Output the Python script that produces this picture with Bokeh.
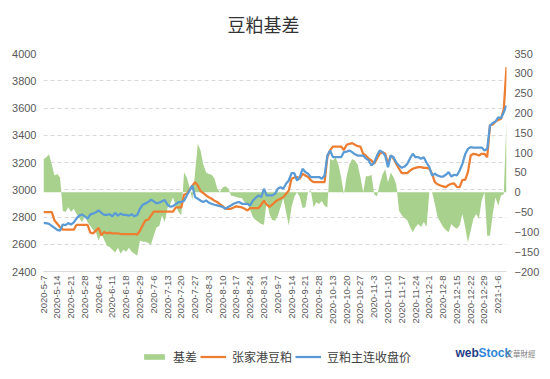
import math
from bokeh.plotting import figure
from bokeh.layouts import column
from bokeh.models import (Range1d, LinearAxis, FixedTicker, ColumnDataSource,
                          Legend, LegendItem, Label)
from bokeh.embed import file_html
from bokeh.resources import INLINE

title_text = "豆粕基差"
series_names = ["基差", "张家港豆粕", "豆粕主连收盘价"]
logo_parts = ["web", "Stock", "文華財經"]

date_labels = ["2020-5-7", "2020-5-14", "2020-5-21", "2020-5-28", "2020-6-4", "2020-6-11",
               "2020-6-18", "2020-6-29", "2020-7-6", "2020-7-13", "2020-7-20", "2020-7-27",
               "2020-8-3", "2020-8-10", "2020-8-17", "2020-8-24", "2020-8-31", "2020-9-7",
               "2020-9-14", "2020-9-21", "2020-9-28", "2020-10-13", "2020-10-20", "2020-10-27",
               "2020-11-3", "2020-11-10", "2020-11-17", "2020-11-24", "2020-12-1", "2020-12-8",
               "2020-12-15", "2020-12-22", "2020-12-29", "2021-1-6"]
label_every = 5

left_ticks = [2400, 2600, 2800, 3000, 3200, 3400, 3600, 3800, 4000]
right_ticks = [-200, -150, -100, -50, 0, 50, 100, 150, 200, 250, 300, 350]

# 张家港豆粕 (spot)
spot = [2836, 2836, 2836, 2836, 2775, 2750, 2727, 2707, 2707, 2707,
        2707, 2707, 2743, 2743, 2743, 2743, 2743, 2685, 2680, 2700,
        2720, 2666, 2690, 2680, 2685, 2680, 2680, 2680, 2675, 2675,
        2675, 2675, 2675, 2675, 2670, 2700, 2740, 2775, 2780, 2810,
        2840, 2840, 2840, 2840, 2840, 2840, 2840, 2840, 2870, 2870,
        2870, 2965, 2970, 3000, 3030, 3056, 3030, 2990, 2975, 2958,
        2945, 2934, 2920, 2910, 2895, 2880, 2860, 2860, 2860, 2870,
        2878, 2874, 2870, 2860, 2848, 2865, 2865, 2865, 2865, 2890,
        2921, 2890, 2874, 2890, 2910, 2925, 2934, 2946, 2970, 2995,
        3081, 3090, 3093, 3081, 3117, 3105, 3093, 3070, 3056, 3056,
        3056, 3056, 3056, 3239, 3290, 3317, 3317, 3317, 3317, 3292,
        3330, 3337, 3342, 3330, 3320, 3317, 3264, 3250, 3227, 3215,
        3190, 3230, 3264, 3276, 3264, 3190, 3251, 3230, 3190, 3154,
        3122, 3122, 3122, 3140, 3154, 3160, 3166, 3166, 3160, 3160,
        3154, 3117, 3056, 3040, 3031, 3025, 3019, 3035, 3044, 3046,
        3021, 3019, 3073, 3073, 3129, 3251, 3264, 3260, 3251, 3264,
        3264, 3239, 3471, 3480, 3500, 3513, 3520, 3590, 3900]

# 豆粕主连收盘价 (futures close)
futures = [2755, 2755, 2750, 2735, 2720, 2705, 2700, 2745, 2740, 2755,
           2745, 2760, 2790, 2810, 2819, 2805, 2787, 2819, 2825, 2835,
           2848, 2830, 2815, 2815, 2820, 2805, 2830, 2810, 2825, 2815,
           2815, 2810, 2820, 2805, 2815, 2860, 2890, 2900, 2910, 2927,
           2915, 2900, 2905, 2915, 2925, 2890, 2875, 2880, 2895, 2910,
           2910, 2920, 2958, 2995, 3031, 2946, 2934, 2920, 2910, 2922,
           2905, 2897, 2890, 2885, 2880, 2874, 2860, 2874, 2885, 2897,
           2905, 2910, 2897, 2897, 2897, 2885, 2921, 2940, 2958, 2946,
           3007, 2958, 2958, 2958, 2970, 3007, 3019, 3007, 3044, 3068,
           3122, 3122, 3068, 3093, 3154, 3130, 3117, 3093, 3093, 3093,
           3093, 3081, 3105, 3251, 3288, 3239, 3239, 3239, 3239, 3276,
           3280, 3288, 3276, 3260, 3251, 3251, 3251, 3230, 3215, 3178,
           3200, 3251, 3288, 3276, 3250, 3166, 3251, 3239, 3200, 3178,
           3161, 3170, 3190, 3230, 3264, 3239, 3239, 3227, 3239, 3198,
           3166, 3105, 3117, 3105, 3097, 3097, 3110, 3129, 3097, 3110,
           3105, 3141, 3190, 3260, 3300, 3313, 3310, 3310, 3310, 3310,
           3288, 3300, 3471, 3490, 3500, 3532, 3525, 3569, 3618]

# 基差 (basis, right axis)
basis = [83, 88, 96, 70, 42, 46, 37, -47, -50, -38,
         -50, -42, -55, -65, -76, -60, -76, -85, -95, -101,
         -122, -105, -120, -135, -138, -145, -152, -140, -155, -145,
         -150, -140, -150, -155, -160, -122, -125, -125, -128, -132,
         -110, -89, -85, -59, -76, -40, -30, -13, -35, -50,
         -59, 50, 37, 12, -20, 50, 122, 105, 70, 50,
         46, 44, 35, 10, 0, 12, 15, 10, -8, -10,
         -12, -14, -15, -25, -30, -45, -63, -70, -75, -80,
         -82, -21, -55, -70, -72, -60, -38, -15, -50, -84,
         -38, -12, 0, -12, -40, -38, 0, 4, -38, -25,
         -30, -22, -35, -38, 84, 80, 88, 70, 38, -5,
         40, 70, 84, 80, 70, 38, 0, 40, 40, 44,
         -5, -10, 20, 45, 58, 25, 50, 38, 20, -47,
         -58, -65, -71, -88, -101, -88, -80, -88, -75, -88,
         0, 0, -30, -63, -75, -88, -95, -101, -80, -88,
         -92, -84, -55, -88, -127, -97, -67, -55, -67, -21,
         0, -110, -110, -55, -13, -34, -8, -5, 185]

n = len(spot)
idx = list(range(n))
src = ColumnDataSource(dict(x=idx, spot=spot, fut=futures, basis=basis, zero=[0] * n))

TXT = "#595959"
GRID = "#d9d9d9"
GREEN = "#a9d18e"
ORANGE = "#ed7d31"
BLUE = "#5b9bd5"


def strip(height):
    s = figure(width=542, height=height, output_backend="svg", toolbar_location=None,
               x_range=Range1d(0, 1), y_range=Range1d(0, 1),
               x_axis_location=None, y_axis_location=None,
               min_border_left=0, min_border_right=0, min_border_top=0, min_border_bottom=0,
               background_fill_color="white", border_fill_color="white")
    try:
        s.frame_align = False
    except Exception:
        pass
    s.outline_line_color = None
    s.xgrid.grid_line_color = None
    s.ygrid.grid_line_color = None
    return s


# header strip with the title
h = strip(45)
h.add_layout(Label(x=227, y=22, x_units="screen", y_units="screen", text=title_text,
                   text_font="Noto Sans CJK SC", text_font_size="18px",
                   text_color="#333333", text_baseline="middle"))

# main chart
p = figure(width=542, height=292, output_backend="svg", toolbar_location=None,
           x_range=Range1d(0, n - 1), y_range=Range1d(left_ticks[0], left_ticks[-1]),
           min_border_left=43, min_border_right=34, min_border_top=8, min_border_bottom=66,
           background_fill_color="white", border_fill_color="white")
p.outline_line_color = None

p.extra_y_ranges = {"right": Range1d(right_ticks[0], right_ticks[-1])}

p.varea(x="x", y1="zero", y2="basis", source=src, y_range_name="right",
        fill_color=GREEN, fill_alpha=1.0)
p.line(x="x", y="spot", source=src, line_color=ORANGE, line_width=2.25)
p.line(x="x", y="fut", source=src, line_color=BLUE, line_width=2.25)

# x axis
xt = [label_every * k for k in range(len(date_labels))]
p.xaxis.ticker = FixedTicker(ticks=xt)
p.xaxis.major_label_overrides = {t: lab for t, lab in zip(xt, date_labels)}
p.xaxis.major_label_orientation = math.pi / 2
p.xaxis.major_label_text_font = "Liberation Sans"
p.xaxis.major_label_text_font_size = "9.5px"
p.xaxis.major_label_text_color = TXT
p.xaxis.major_label_standoff = 4
p.xaxis.axis_line_color = GRID
p.xaxis.major_tick_line_color = None
p.xaxis.minor_tick_line_color = None
p.xaxis.major_tick_out = 0
p.xgrid.grid_line_color = None

# left axis
p.yaxis.ticker = FixedTicker(ticks=left_ticks)
p.yaxis.major_label_text_font = "Liberation Sans"
p.yaxis.major_label_text_font_size = "11px"
p.yaxis.major_label_text_color = TXT
p.yaxis.major_label_standoff = 7
p.yaxis.axis_line_color = None
p.yaxis.major_tick_line_color = None
p.yaxis.minor_tick_line_color = None
p.yaxis.major_tick_out = 0
p.ygrid.ticker = FixedTicker(ticks=left_ticks)
p.ygrid.grid_line_color = GRID
p.ygrid.grid_line_dash = "4 3"

# right axis
ra = LinearAxis(y_range_name="right", ticker=FixedTicker(ticks=right_ticks))
ra.major_label_text_font = "Liberation Sans"
ra.major_label_text_font_size = "11px"
ra.major_label_text_color = TXT
ra.major_label_standoff = 8
ra.axis_line_color = None
ra.major_tick_line_color = None
ra.minor_tick_line_color = None
ra.major_tick_out = 0
p.add_layout(ra, "right")

# footer strip carrying the legend and the logo text
f = strip(34)
# legend carriers: one point each, outside the visible range
g_area = f.varea(x=[-1], y1=[-1], y2=[-1], fill_color=GREEN, fill_alpha=1.0)
g_spot = f.line(x=[-1], y=[-1], line_color=ORANGE, line_width=2.25)
g_fut = f.line(x=[-1], y=[-1], line_color=BLUE, line_width=2.25)

legend = Legend(items=[LegendItem(label=series_names[0], renderers=[g_area]),
                       LegendItem(label=series_names[1], renderers=[g_spot]),
                       LegendItem(label=series_names[2], renderers=[g_fut])],
                orientation="horizontal", location=(141, 6),
                label_text_font="Noto Sans CJK SC", label_text_font_size="12px",
                label_text_color="#404040", glyph_width=26, glyph_height=7,
                label_height=14, label_standoff=6, spacing=3, padding=0, margin=0,
                border_line_color=None, background_fill_alpha=0)
f.add_layout(legend, "center")

logo_specs = [(logo_parts[0], 455, 19, "#1f3c88", "Liberation Sans", "12px", "bold"),
              (logo_parts[1], 478, 19, "#2f86d8", "Liberation Sans", "12px", "bold"),
              (logo_parts[2], 505, 18, "#7f7f7f", "Noto Sans CJK TC", "7.5px", "normal")]
for txt, xs, ys, col, font, size, style in logo_specs:
    f.add_layout(Label(x=xs, y=ys, x_units="screen", y_units="screen", text=txt,
                       text_font=font, text_font_size=size, text_font_style=style,
                       text_color=col, text_baseline="middle"))

layout = column(h, p, f, spacing=0)
open("out.html", "w").write(file_html(layout, INLINE))
